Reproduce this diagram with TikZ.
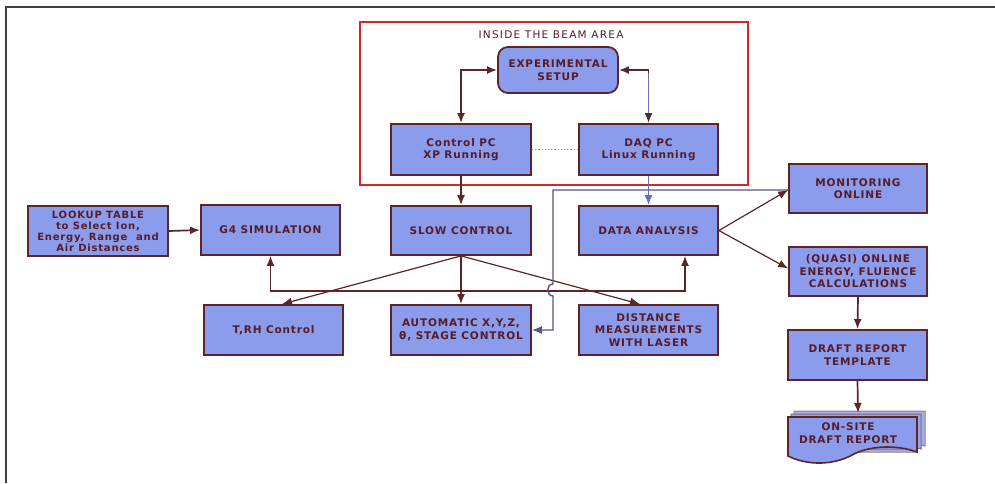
\documentclass[tikz,border=0pt]{standalone}
\usepackage{fontspec}
\setmainfont{DejaVu Sans}
\newfontfamily\boxfont[LetterSpace=8]{DejaVu Sans}
\newfontfamily\titlefont[LetterSpace=12]{DejaVu Sans}
\usetikzlibrary{arrows.meta,calc}
\definecolor{boxfill}{RGB}{138,156,235}
\definecolor{boxline}{RGB}{92,38,40}
\definecolor{txt}{RGB}{88,28,40}
\definecolor{redframe}{RGB}{210,40,40}
\definecolor{blueline}{RGB}{96,110,190}
\tikzset{
  box/.style={draw=boxline, line width=1.8pt, fill=boxfill, text=txt, align=center,
    minimum width=139pt, minimum height=50pt, inner sep=2pt,
    font=\boxfont\fontsize{10.5}{12.5}\selectfont\bfseries},
  conn/.style={draw=boxline, line width=1.7pt, -{Latex[length=10pt,width=8pt]}},
  conn2/.style={draw=boxline, line width=1.7pt, {Latex[length=10pt,width=8pt]}-{Latex[length=10pt,width=8pt]}},
}
\begin{document}
\begin{tikzpicture}[x=1pt,y=-1pt]
\useasboundingbox (0,0) rectangle (995,483);
\fill[white] (0,0) rectangle (995,483);
% outer frame
\draw[line width=2.2pt, color=black!75] (6,483) -- (6,7) -- (995,7);
% red area
\draw[redframe, line width=2.2pt] (360,22) rectangle (748,185);
\node[text=txt, font=\titlefont\fontsize{10.5}{12}\selectfont] (title) at (551,35) {INSIDE THE BEAM AREA};
% nodes
\node[box, rounded corners=10pt, minimum width=120pt, minimum height=46pt] (exp) at (558,70) {EXPERIMENTAL\\SETUP};
\node[box, minimum width=140pt, minimum height=51pt] (ctrl) at (461,149.5) {Control PC\\XP Running};
\node[box, minimum height=51pt] (daq) at (648.5,149.5) {DAQ PC\\Linux Running};
\node[box, minimum width=140pt, minimum height=49pt] (slow) at (461,230.5) {SLOW CONTROL};
\node[box, minimum height=49pt] (data) at (648.5,230.5) {DATA ANALYSIS};
\node[box] (g4) at (270.5,230) {G4 SIMULATION};
\node[box, minimum width=140pt, font=\boxfont\fontsize{10}{11}\selectfont\bfseries] (lookup) at (98,231) {LOOKUP TABLE\\to Select Ion,\\Energy, Range~ and\\Air Distances};
\node[box, minimum width=138pt, minimum height=49pt] (mon) at (858,188.5) {MONITORING\\ONLINE};
\node[box, minimum width=138pt, minimum height=49pt] (quasi) at (858,271.5) {(QUASI) ONLINE\\ENERGY, FLUENCE\\CALCULATIONS};
\node[box] (draft) at (857.5,355) {DRAFT REPORT\\TEMPLATE};
\node[box] (trh) at (273.5,330) {T,RH Control};
\node[box, minimum width=140pt] (auto) at (461,330) {AUTOMATIC X,Y,Z,\\θ, STAGE CONTROL};
\node[box] (dist) at (648.5,330) {DISTANCE\\MEASUREMENTS\\WITH LASER};
% on-site draft report (multi document)
\draw[boxline!60, line width=1pt, fill=boxfill!80!white] (794,411) -- (925,411) -- (925,446) .. controls (921,445) and (919,445) .. (917,446) -- (917,452) -- (794,452) -- cycle;
\draw[boxline!70, line width=1pt, fill=boxfill!90!white] (791,414) -- (921,414) -- (921,449) .. controls (919,448) and (918,448) .. (917,449) -- (791,449) -- cycle;
\draw[boxline, line width=1.6pt, fill=boxfill] (788,417) -- (917,417) -- (917,452)
  .. controls (895,444) and (868,446) .. (852,455)
  .. controls (834,465) and (808,466) .. (788,456) -- cycle;
\node[text=txt, align=center, font=\boxfont\fontsize{10.5}{12.5}\selectfont\bfseries] (onsite) at (848,433) {ON-SITE\\DRAFT REPORT};
\coordinate (onsiteTop) at (858,413);
% connectors
\draw[conn2] (exp.west) -| (ctrl.north);
\draw[conn2] (exp.east) -| (daq.north);
\draw[blueline, line width=1.7pt] ($(daq.north)+(0,-50)$) -- ($(daq.north)+(0,-10)$);
\draw[blueline!70, dotted, line width=1.2pt] (ctrl.east) -- (daq.west);
\draw[conn] (ctrl.south) -- (slow.north);
\draw[conn, draw=blueline] (daq.south) -- (data.north);
\draw[conn] (lookup.east) -- (g4.west);
\coordinate (trhIn) at ($(trh.north)+(8.5,0)$);
\coordinate (distIn) at ($(dist.north)+(-8.5,0)$);
\draw[conn, line width=1.2pt] (slow.south) -- (trhIn);
\draw[conn] (slow.south) -- (auto.north);
\draw[conn, line width=1.2pt] (slow.south) -- (distIn);
\coordinate (dataIn) at ($(data.south)+(36.5,0)$);
\draw[conn2, line width=1.5pt] (g4.south) -- ++(0,35) -| (dataIn);
\coordinate (monIn) at ($(mon.west)+(0,1.5)$);
\draw[conn, line width=1.4pt, draw=blueline!60!boxline, {Latex[length=10pt,width=8pt]}-] (auto.east) -- (553,330) -- (553,296)
  .. controls (546,296) and (546,284) .. (553,284) -- (553,190) -- (monIn);
\draw[conn, line width=1.2pt] (data.east) -- (monIn);
\draw[conn, line width=1.2pt] (data.east) -- ($(quasi.west)+(0,-3)$);
\draw[conn] (quasi.south) -- (draft.north);
\draw[conn] (draft.south) -- (onsiteTop);
\end{tikzpicture}
\end{document}
